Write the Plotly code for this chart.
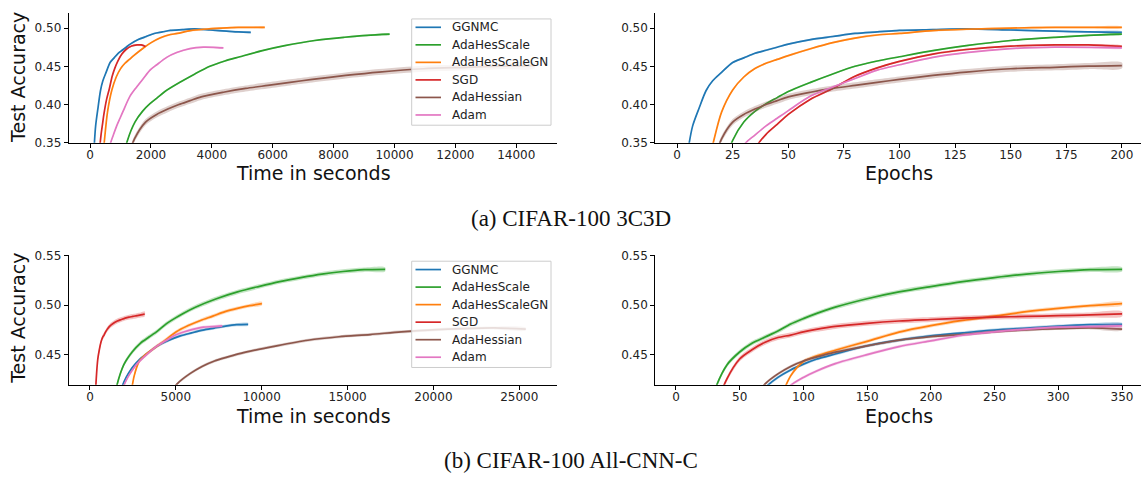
import plotly.graph_objects as go

# ---------------- data ----------------
OPTIMIZERS = ["GGNMC", "AdaHesScale", "AdaHesScaleGN", "SGD", "AdaHessian", "Adam"]
COLORS = ["#1f77b4", "#2ca02c", "#ff7f0e", "#d62728", "#8c564b", "#e377c2"]

# (a) CIFAR-100 3C3D  -- test accuracy at these epochs
EPOCHS_3C3D = [1, 3, 5, 7, 10, 13, 16, 20, 25, 30, 35, 40, 45, 50, 60, 70, 80, 90,
               100, 115, 130, 150, 170, 185, 200]
ACC_3C3D_GGNMC = [0.20, 0.30, 0.342, 0.372, 0.396, 0.418, 0.431, 0.442, 0.455, 0.461,
                  0.467, 0.471, 0.475, 0.479, 0.485, 0.489, 0.493, 0.495, 0.497, 0.498,
                  0.499, 0.4975, 0.496, 0.495, 0.4945]
ACC_3C3D_ADAHESSCALE = [0.05, 0.08, 0.11, 0.14, 0.18, 0.22, 0.26, 0.31, 0.353, 0.377,
                        0.391, 0.401, 0.409, 0.417, 0.429, 0.440, 0.450, 0.457, 0.4625,
                        0.4705, 0.477, 0.4838, 0.488, 0.4905, 0.492]
ACC_3C3D_ADAHESSCALEGN = [0.05, 0.10, 0.15, 0.20, 0.26, 0.31, 0.347, 0.390, 0.419, 0.436,
                          0.447, 0.454, 0.459, 0.464, 0.473, 0.481, 0.487, 0.491, 0.493,
                          0.4966, 0.4985, 0.500, 0.501, 0.501, 0.501]
ACC_3C3D_SGD = [0.02, 0.04, 0.06, 0.08, 0.11, 0.14, 0.17, 0.21, 0.26, 0.30, 0.342, 0.361,
                0.374, 0.387, 0.407, 0.421, 0.437, 0.448, 0.4565, 0.466, 0.472, 0.4765,
                0.478, 0.478, 0.476]
ACC_3C3D_ADAHESSIAN = [0.08, 0.13, 0.17, 0.21, 0.25, 0.29, 0.322, 0.355, 0.377, 0.387,
                       0.394, 0.400, 0.405, 0.410, 0.416, 0.421, 0.425, 0.429, 0.4328,
                       0.438, 0.4425, 0.4468, 0.4487, 0.4503, 0.451]
ACC_3C3D_ADAM = [0.03, 0.06, 0.09, 0.12, 0.16, 0.20, 0.23, 0.27, 0.31, 0.347, 0.360, 0.372,
                 0.382, 0.392, 0.411, 0.423, 0.434, 0.445, 0.452, 0.4617, 0.468, 0.4732,
                 0.475, 0.4748, 0.474]
SEC_PER_EPOCH_3C3D = [26.4, 49.2, 28.7, 9.1, 73.0, 21.9]
STD_3C3D = [0.0012, 0.0010, 0.0012, 0.0012, 0.0040, 0.0010]

# (b) CIFAR-100 All-CNN-C
EPOCHS_ALLCNN = [1, 5, 10, 20, 30, 40, 50, 60, 70, 80, 90, 100, 110, 125, 150, 175, 200,
                 225, 250, 275, 300, 325, 350]
ACC_ALLCNN_GGNMC = [0.05, 0.10, 0.15, 0.23, 0.29, 0.335, 0.37, 0.398, 0.417, 0.4275, 0.435,
                    0.4408, 0.4457, 0.451, 0.4593, 0.4649, 0.4692, 0.4722, 0.475, 0.477,
                    0.479, 0.4804, 0.4808]
ACC_ALLCNN_ADAHESSCALE = [0.10, 0.20, 0.28, 0.36, 0.413, 0.440, 0.453, 0.462, 0.468, 0.474,
                          0.481, 0.4865, 0.4915, 0.498, 0.5065, 0.5133, 0.5187, 0.5237,
                          0.5277, 0.5312, 0.5338, 0.5356, 0.536]
ACC_ALLCNN_ADAHESSCALEGN = [0.02, 0.04, 0.07, 0.12, 0.17, 0.22, 0.27, 0.32, 0.365, 0.40,
                            0.429, 0.4435, 0.449, 0.4548, 0.4637, 0.473, 0.4795, 0.4847,
                            0.489, 0.4935, 0.4968, 0.4995, 0.5016]
ACC_ALLCNN_SGD = [0.08, 0.16, 0.24, 0.33, 0.392, 0.426, 0.446, 0.4555, 0.4628, 0.4675,
                  0.470, 0.4732, 0.4757, 0.4787, 0.4818, 0.4841, 0.4856, 0.487, 0.488,
                  0.4887, 0.4895, 0.4902, 0.4912]
ACC_ALLCNN_ADAHESSIAN = [0.05, 0.10, 0.15, 0.23, 0.29, 0.335, 0.37, 0.402, 0.421, 0.431,
                         0.4385, 0.444, 0.4478, 0.4528, 0.4592, 0.4648, 0.4683, 0.4705,
                         0.4733, 0.4752, 0.4765, 0.4772, 0.476]
ACC_ALLCNN_ADAM = [0.03, 0.06, 0.10, 0.17, 0.23, 0.28, 0.32, 0.355, 0.383, 0.405, 0.4195,
                   0.4275, 0.4337, 0.4413, 0.4503, 0.4584, 0.4642, 0.4698, 0.4733, 0.476,
                   0.4779, 0.4785, 0.4792]
SEC_PER_EPOCH_ALLCNN = [26.3, 49.1, 28.6, 9.1, 72.5, 22.0]
STD_ALLCNN = [0.0015, 0.0022, 0.0018, 0.0025, 0.0015, 0.0015]

TICKS_TIME_3C3D = [0, 2000, 4000, 6000, 8000, 10000, 12000, 14000]
TICKS_EPOCH_3C3D = [0, 25, 50, 75, 100, 125, 150, 175, 200]
TICKS_ACC_3C3D = [0.35, 0.40, 0.45, 0.50]
TICKS_TIME_ALLCNN = [0, 5000, 10000, 15000, 20000, 25000]
TICKS_EPOCH_ALLCNN = [0, 50, 100, 150, 200, 250, 300, 350]
TICKS_ACC_ALLCNN = [0.45, 0.50, 0.55]

ACC_3C3D = [ACC_3C3D_GGNMC, ACC_3C3D_ADAHESSCALE, ACC_3C3D_ADAHESSCALEGN,
            ACC_3C3D_SGD, ACC_3C3D_ADAHESSIAN, ACC_3C3D_ADAM]
ACC_ALLCNN = [ACC_ALLCNN_GGNMC, ACC_ALLCNN_ADAHESSCALE, ACC_ALLCNN_ADAHESSCALEGN,
              ACC_ALLCNN_SGD, ACC_ALLCNN_ADAHESSIAN, ACC_ALLCNN_ADAM]

# ---------------- figure ----------------
W, H = 1141, 489
FONT = "DejaVu Sans"
TICK_SIZE = 12
LEGEND_SIZE = 12
LINE_W = 1.7


def rgba(hex_color, a):
    h = hex_color.lstrip("#")
    r, g, b = int(h[0:2], 16), int(h[2:4], 16), int(h[4:6], 16)
    return f"rgba({r},{g},{b},{a})"


fig = go.Figure()


def add_panel(xs, ys, std, color, name, xa, ya):
    upper = [v + std for v in ys]
    lower = [v - std for v in ys]
    fig.add_trace(go.Scatter(
        x=list(xs) + list(xs)[::-1], y=upper + lower[::-1],
        fill="toself", fillcolor=rgba(color, 0.28), mode="lines",
        line=dict(width=0, shape="spline", smoothing=0.8),
        hoverinfo="skip", showlegend=False, xaxis=xa, yaxis=ya))
    fig.add_trace(go.Scatter(
        x=xs, y=ys, mode="lines", name=name,
        line=dict(color=color, width=LINE_W, shape="spline", smoothing=0.8),
        xaxis=xa, yaxis=ya, showlegend=False))


for i, name in enumerate(OPTIMIZERS):
    c = COLORS[i]
    t = [e * SEC_PER_EPOCH_3C3D[i] for e in EPOCHS_3C3D]
    add_panel(t, ACC_3C3D[i], STD_3C3D[i], c, name, "x", "y")
    add_panel(EPOCHS_3C3D, ACC_3C3D[i], STD_3C3D[i], c, name, "x2", "y2")
    t2 = [e * SEC_PER_EPOCH_ALLCNN[i] for e in EPOCHS_ALLCNN]
    add_panel(t2, ACC_ALLCNN[i], STD_ALLCNN[i], c, name, "x3", "y3")
    add_panel(EPOCHS_ALLCNN, ACC_ALLCNN[i], STD_ALLCNN[i], c, name, "x4", "y4")

axis_common = dict(showline=True, linecolor="black", linewidth=1, ticks="outside",
                   ticklen=4, tickwidth=1, tickcolor="black", showgrid=False,
                   zeroline=False, tickfont=dict(family=FONT, size=TICK_SIZE, color="#222"))
x_common = dict(ticklabelstandoff=-3, **axis_common)

LEFT_DOM = [68.7 / W, 557.3 / W]
RIGHT_DOM = [655.3 / W, 1.0]
TOP_DOM = [1 - 139.7 / H, 1 - 6.0 / H]
BOT_DOM = [1 - 389.0 / H, 1 - 255.7 / H]

fig.update_layout(
    width=W, height=H, margin=dict(l=0, r=0, t=0, b=0),
    paper_bgcolor="white", plot_bgcolor="white", showlegend=False,
    xaxis=dict(domain=LEFT_DOM, range=[-700, 15347], tickvals=TICKS_TIME_3C3D,
               tickformat="d", anchor="y", **x_common),
    yaxis=dict(domain=TOP_DOM, range=[0.35, 0.52], tickvals=TICKS_ACC_3C3D,
               tickformat=".2f", anchor="x", **axis_common),
    xaxis2=dict(domain=RIGHT_DOM, range=[-9.8, 208.6], tickvals=TICKS_EPOCH_3C3D,
                anchor="y2", **x_common),
    yaxis2=dict(domain=TOP_DOM, range=[0.35, 0.52], tickvals=TICKS_ACC_3C3D,
                tickformat=".2f", anchor="x2", **axis_common),
    xaxis3=dict(domain=LEFT_DOM, range=[-1240, 27213], tickvals=TICKS_TIME_ALLCNN,
                tickformat="d", anchor="y3", **x_common),
    yaxis3=dict(domain=BOT_DOM, range=[0.42, 0.55], tickvals=TICKS_ACC_ALLCNN,
                tickformat=".2f", anchor="x3", **axis_common),
    xaxis4=dict(domain=RIGHT_DOM, range=[-16.2, 364.9], tickvals=TICKS_EPOCH_ALLCNN,
                anchor="y4", **x_common),
    yaxis4=dict(domain=BOT_DOM, range=[0.42, 0.55], tickvals=TICKS_ACC_ALLCNN,
                tickformat=".2f", anchor="x4", **axis_common),
)

# ---- legends (drawn as boxes on the left panels, like the matplotlib legend) ----
def draw_legend(top_px):
    left, right, height = 411.7, 551.0, 109.4
    fig.add_shape(type="rect", xref="paper", yref="paper", layer="above",
                  x0=left / W, x1=right / W, y0=1 - (top_px + height) / H, y1=1 - top_px / H,
                  fillcolor="rgba(255,255,255,0.8)", line=dict(color="#cccccc", width=1))
    for k, name in enumerate(OPTIMIZERS):
        yc = 1 - (top_px + 8.6 + 18.05 * k) / H
        fig.add_shape(type="line", xref="paper", yref="paper", layer="above",
                      x0=415.5 / W, x1=441.0 / W, y0=yc, y1=yc,
                      line=dict(color=COLORS[k], width=LINE_W))
        fig.add_annotation(text=name, xref="paper", yref="paper", x=449.5 / W, y=yc,
                           xanchor="left", yanchor="middle", showarrow=False,
                           font=dict(family=FONT, size=LEGEND_SIZE, color="#222"))


draw_legend(12.3)
draw_legend(261.7)

LABEL_FONT = dict(family=FONT, size=19, color="#111")
CAP_FONT = dict(family="Liberation Serif", size=23, color="#111")
ann = [
    dict(text="Test Accuracy", x=18 / W, y=1 - 73 / H, textangle=-90, font=LABEL_FONT),
    dict(text="Test Accuracy", x=18 / W, y=1 - 321 / H, textangle=-90, font=LABEL_FONT),
    dict(text="Time in seconds", x=313 / W, y=1 - 171 / H, font=LABEL_FONT),
    dict(text="Epochs", x=899 / W, y=1 - 171 / H, font=LABEL_FONT),
    dict(text="Time in seconds", x=313 / W, y=1 - 421 / H, font=LABEL_FONT),
    dict(text="Epochs", x=899 / W, y=1 - 421 / H, font=LABEL_FONT),
    dict(text="(a) CIFAR-100 3C3D", x=0.5, y=1 - 218 / H, font=CAP_FONT),
    dict(text="(b) CIFAR-100 All-CNN-C", x=0.5, y=1 - 467 / H, font=CAP_FONT),
]
for a in ann:
    fig.add_annotation(xref="paper", yref="paper", showarrow=False,
                       xanchor="center", yanchor="middle", **a)

fig.write_html("out.html")
